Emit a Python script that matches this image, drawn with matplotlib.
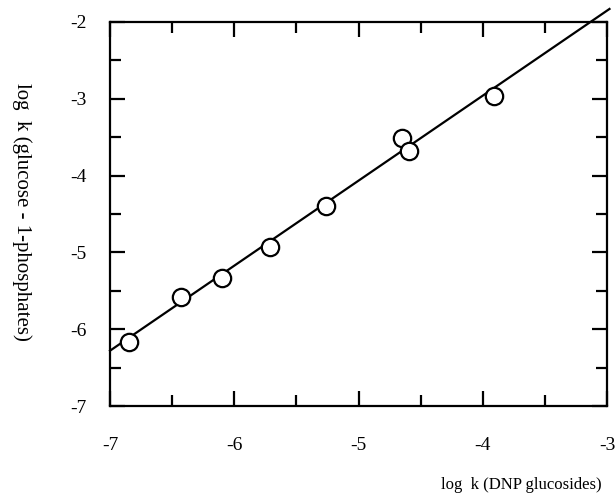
import numpy as np
import matplotlib.pyplot as plt
from matplotlib.ticker import MultipleLocator

# data
log_k_dnp = [-6.85, -6.43, -6.10, -5.71, -5.26, -4.65, -4.59, -3.91]
log_k_g1p = [-6.17, -5.58, -5.33, -4.93, -4.39, -3.51, -3.68, -2.96]

# straight line drawn through the points (end points)
fit_x = [-7.0, -2.98]
fit_y = [-6.28, -1.83]

plt.rcParams['font.family'] = ['Liberation Serif', 'DejaVu Serif']
plt.rcParams['axes.unicode_minus'] = False

fig = plt.figure(figsize=(6.16, 4.98), dpi=100)
ax = fig.add_axes([110 / 616, 1 - 406 / 498, 497 / 616, 384 / 498])

ax.plot(fit_x, fit_y, color='black', lw=1.6, clip_on=False, zorder=2)
ax.plot(log_k_dnp, log_k_g1p, 'o', ms=12.5, mfc='white', mec='black',
        mew=1.6, zorder=3)

ax.set_xlim(-7, -3)
ax.set_ylim(-7, -2)
ax.xaxis.set_major_locator(MultipleLocator(1))
ax.xaxis.set_minor_locator(MultipleLocator(0.5))
ax.yaxis.set_major_locator(MultipleLocator(1))
ax.yaxis.set_minor_locator(MultipleLocator(0.5))
ax.tick_params(which='both', direction='in', top=True, right=True,
               width=1.6, labelsize=14)
ax.tick_params(which='major', length=11)
ax.tick_params(which='minor', length=8)
ax.tick_params(axis='x', which='major', pad=22)
ax.tick_params(axis='y', which='major', pad=17)
for s in ax.spines.values():
    s.set_linewidth(1.6)

fig.text(521 / 616, 1 - 485 / 498, 'log  k (DNP glucosides)',
         ha='center', va='center', fontsize=12)
fig.text(22 / 616, 1 - 212 / 498, 'log  k (glucose - 1-phosphates)',
         ha='center', va='center', rotation=-90, fontsize=15)

fig.savefig('out.png', dpi=100)
